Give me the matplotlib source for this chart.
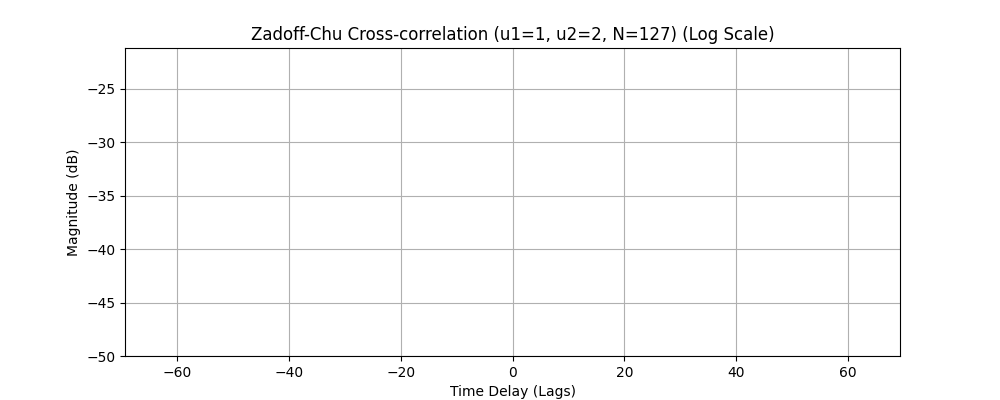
import matplotlib
matplotlib.use('Agg')
import matplotlib.pyplot as plt
import numpy as np

# lags -63..63, cross-correlation magnitude is flat at 1/sqrt(N) -> about -21.04 dB
lags = list(range(-63, 64))
mag_db = [-21.04] * len(lags)

fig, ax = plt.subplots(figsize=(10, 4), dpi=100)
ax.plot(lags, mag_db)
ax.set_ylim(-50, -21.2)
ax.set_title('Zadoff-Chu Cross-correlation (u1=1, u2=2, N=127) (Log Scale)')
ax.set_xlabel('Time Delay (Lags)')
ax.set_ylabel('Magnitude (dB)')
ax.grid(True)

fig.savefig('out.png', dpi=100)
